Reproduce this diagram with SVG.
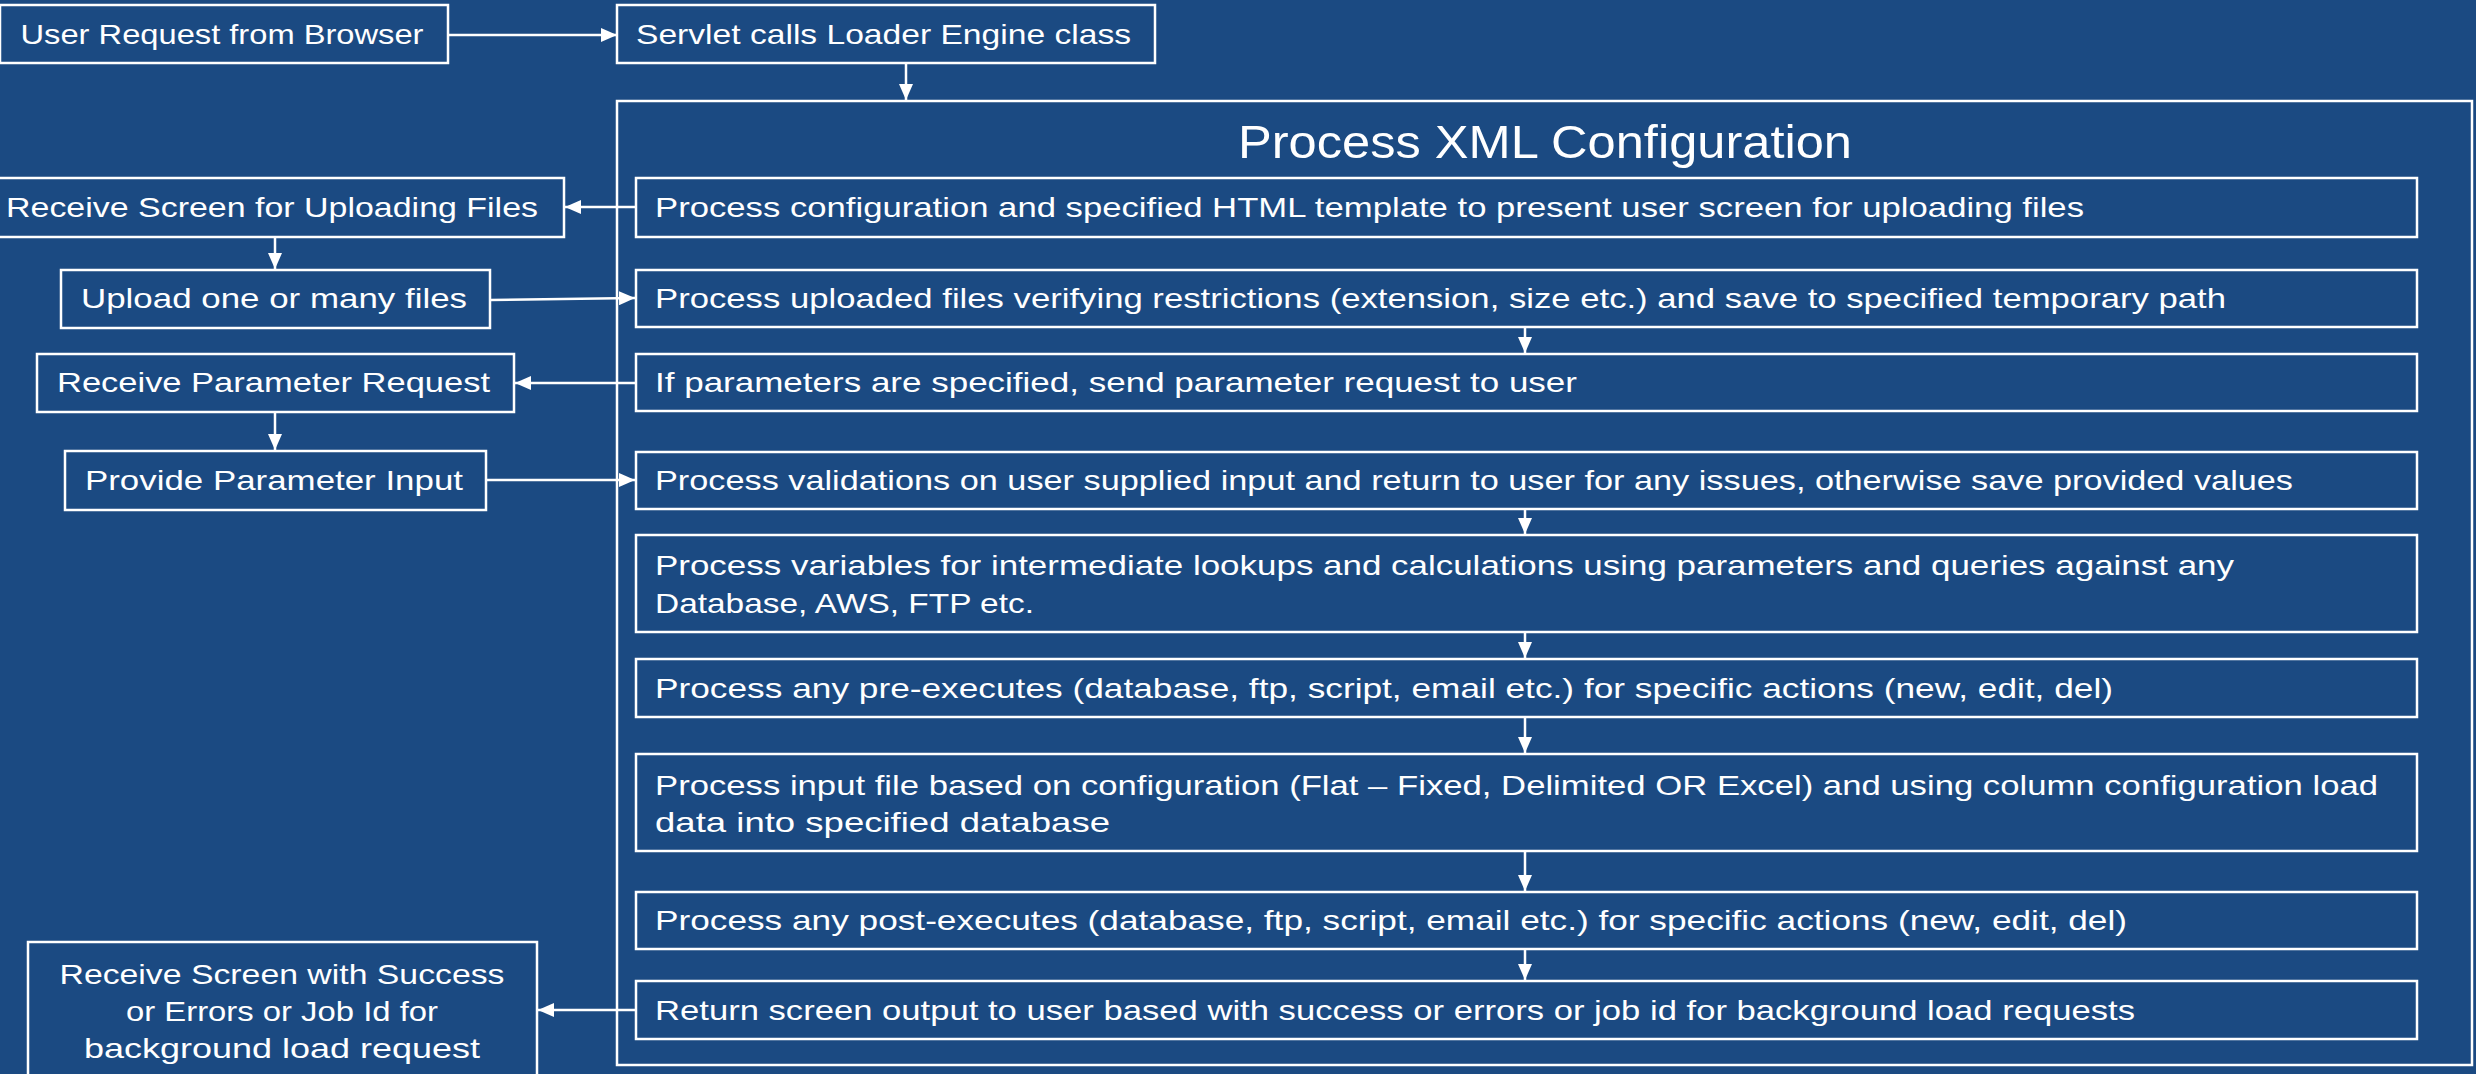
<svg xmlns="http://www.w3.org/2000/svg" width="2476" height="1074" viewBox="0 0 2476 1074">
<defs>
<marker id="ah" viewBox="0 0 16 14" refX="16" refY="7" markerWidth="16" markerHeight="14" markerUnits="userSpaceOnUse" orient="auto">
<path d="M0,0 L16,7 L0,14 z" fill="#ffffff"/>
</marker>
<style>
.bx{fill:none;stroke:#ffffff;stroke-width:2.5}
.t{fill:#ffffff;font-family:"Liberation Sans","Open Sans",sans-serif;font-size:28px}
.c{text-anchor:middle}
.ttl{fill:#ffffff;font-family:"Liberation Sans","Open Sans",sans-serif;font-size:47px;text-anchor:middle}
.cn{fill:none;stroke:#ffffff;stroke-width:2.5;marker-end:url(#ah)}
</style>
</defs>
<rect x="0" y="0" width="2476" height="1074" fill="#1b4a82"/>

<g id="user-request">
<rect class="bx" x="0" y="5" width="448" height="58"/>
<text class="t c" x="222" y="44" textLength="403" lengthAdjust="spacingAndGlyphs">User Request from Browser</text>
</g>
<g id="servlet">
<rect class="bx" x="617" y="5" width="538" height="58"/>
<text class="t" x="636" y="44" textLength="495" lengthAdjust="spacingAndGlyphs">Servlet calls Loader Engine class</text>
</g>

<g id="process-xml">
<rect class="bx" x="617" y="101" width="1855" height="964"/>
<text class="ttl" x="1545" y="158" textLength="614" lengthAdjust="spacingAndGlyphs">Process XML Configuration</text>
</g>

<g id="receive-screen">
<rect class="bx" x="-5" y="178" width="569" height="59"/>
<text class="t" x="6" y="217" textLength="532" lengthAdjust="spacingAndGlyphs">Receive Screen for Uploading Files</text>
</g>
<g id="upload-files">
<rect class="bx" x="61" y="270" width="429" height="58"/>
<text class="t" x="81" y="308" textLength="386" lengthAdjust="spacingAndGlyphs">Upload one or many files</text>
</g>
<g id="receive-param">
<rect class="bx" x="37" y="354" width="477" height="58"/>
<text class="t" x="57" y="392" textLength="433" lengthAdjust="spacingAndGlyphs">Receive Parameter Request</text>
</g>
<g id="provide-param">
<rect class="bx" x="65" y="451" width="421" height="59"/>
<text class="t" x="85" y="490" textLength="378" lengthAdjust="spacingAndGlyphs">Provide Parameter Input</text>
</g>
<g id="receive-success">
<rect class="bx" x="28" y="942" width="509" height="150"/>
<text class="t c" x="282" y="984" textLength="445" lengthAdjust="spacingAndGlyphs">Receive Screen with Success</text>
<text class="t c" x="282" y="1021" textLength="312" lengthAdjust="spacingAndGlyphs">or Errors or Job Id for</text>
<text class="t c" x="282" y="1058" textLength="396" lengthAdjust="spacingAndGlyphs">background load request</text>
</g>

<g id="step1">
<rect class="bx" x="636" y="178" width="1781" height="59"/>
<text class="t" x="655" y="217" textLength="1429" lengthAdjust="spacingAndGlyphs">Process configuration and specified HTML template to present user screen for uploading files</text>
</g>
<g id="step2">
<rect class="bx" x="636" y="270" width="1781" height="57"/>
<text class="t" x="655" y="308" textLength="1571" lengthAdjust="spacingAndGlyphs">Process uploaded files verifying restrictions (extension, size etc.) and save to specified temporary path</text>
</g>
<g id="step3">
<rect class="bx" x="636" y="354" width="1781" height="57"/>
<text class="t" x="655" y="392" textLength="922" lengthAdjust="spacingAndGlyphs">If parameters are specified, send parameter request to user</text>
</g>
<g id="step4">
<rect class="bx" x="636" y="452" width="1781" height="57"/>
<text class="t" x="655" y="490" textLength="1638" lengthAdjust="spacingAndGlyphs">Process validations on user supplied input and return to user for any issues, otherwise save provided values</text>
</g>
<g id="step5">
<rect class="bx" x="636" y="535" width="1781" height="97"/>
<text class="t" x="655" y="575" textLength="1579" lengthAdjust="spacingAndGlyphs">Process variables for intermediate lookups and calculations using parameters and queries against any</text>
<text class="t" x="655" y="613" textLength="379" lengthAdjust="spacingAndGlyphs">Database, AWS, FTP etc.</text>
</g>
<g id="step6">
<rect class="bx" x="636" y="659" width="1781" height="58"/>
<text class="t" x="655" y="698" textLength="1458" lengthAdjust="spacingAndGlyphs">Process any pre-executes (database, ftp, script, email etc.) for specific actions (new, edit, del)</text>
</g>
<g id="step7">
<rect class="bx" x="636" y="754" width="1781" height="97"/>
<text class="t" x="655" y="795" textLength="1723" lengthAdjust="spacingAndGlyphs">Process input file based on configuration (Flat – Fixed, Delimited OR Excel) and using column configuration load</text>
<text class="t" x="655" y="832" textLength="455" lengthAdjust="spacingAndGlyphs">data into specified database</text>
</g>
<g id="step8">
<rect class="bx" x="636" y="892" width="1781" height="57"/>
<text class="t" x="655" y="930" textLength="1472" lengthAdjust="spacingAndGlyphs">Process any post-executes (database, ftp, script, email etc.) for specific actions (new, edit, del)</text>
</g>
<g id="step9">
<rect class="bx" x="636" y="981" width="1781" height="58"/>
<text class="t" x="655" y="1020" textLength="1480" lengthAdjust="spacingAndGlyphs">Return screen output to user based with success or errors or job id for background load requests</text>
</g>

<g id="connectors">
<line class="cn" x1="448" y1="35" x2="617" y2="35"/>
<line class="cn" x1="906" y1="63" x2="906" y2="100"/>
<line class="cn" x1="636" y1="207" x2="565" y2="207"/>
<line class="cn" x1="275" y1="237" x2="275" y2="269"/>
<line class="cn" x1="490" y1="300" x2="635" y2="298"/>
<line class="cn" x1="1525" y1="327" x2="1525" y2="353"/>
<line class="cn" x1="636" y1="383" x2="515" y2="383"/>
<line class="cn" x1="275" y1="412" x2="275" y2="450"/>
<line class="cn" x1="486" y1="480" x2="635" y2="480"/>
<line class="cn" x1="1525" y1="509" x2="1525" y2="534"/>
<line class="cn" x1="1525" y1="632" x2="1525" y2="658"/>
<line class="cn" x1="1525" y1="717" x2="1525" y2="753"/>
<line class="cn" x1="1525" y1="851" x2="1525" y2="891"/>
<line class="cn" x1="1525" y1="949" x2="1525" y2="980"/>
<line class="cn" x1="636" y1="1010" x2="538" y2="1010"/>
</g>
</svg>
